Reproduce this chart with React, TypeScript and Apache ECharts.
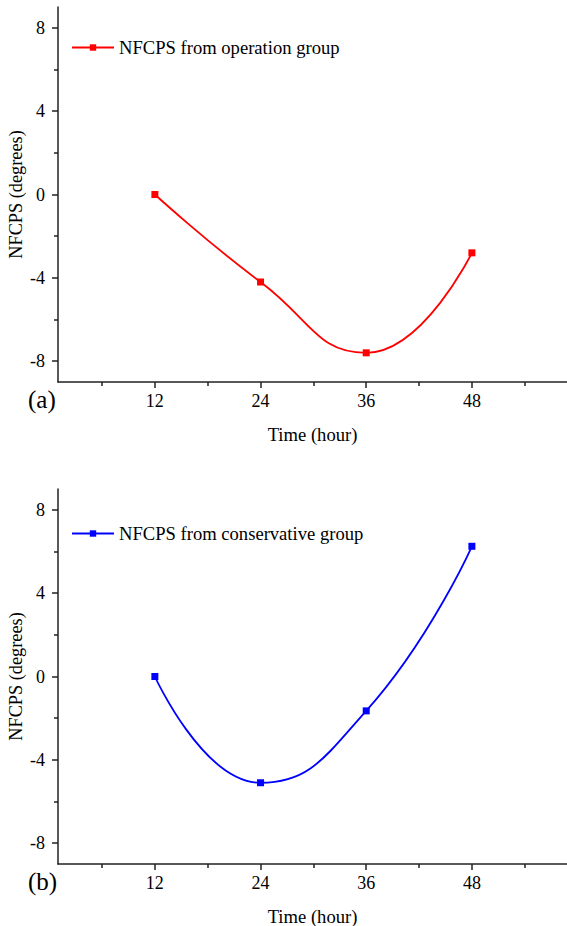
import React, { useEffect, useRef } from "react";
import * as echarts from "echarts";

const hours = [12, 24, 36, 48];
const operationValues = [0, -4.2, -7.6, -2.8];
const conservativeValues = [0, -5.1, -1.65, 6.25];
const yMajorTicks = [-8, -4, 0, 4, 8];
const yMinorTicks = [-6, -2, 2, 6];
const xMajorTicks = [12, 24, 36, 48];
const xMinorTicks = [6, 18, 30, 42, 54];
const seriesNames = ["NFCPS from operation group", "NFCPS from conservative group"];
const panelLabels = ["(a)", "(b)"];

const FONT = "Liberation Serif";
const AXIS_COLOR = "#222";

export default function App() {
  const ref = useRef<HTMLDivElement>(null);
  useEffect(() => {
    if (!ref.current) return;
    const chart = echarts.init(ref.current, null, { renderer: "svg" });
    const grids = [
      { left: 58, right: 0, top: 7, height: 375, containLabel: false, outerBoundsMode: "none" },
      { left: 58, right: 0, top: 489, height: 375, containLabel: false, outerBoundsMode: "none" },
    ];
    const xAxes: any[] = [];
    const yAxes: any[] = [];
    [0, 1].forEach((g) => {
      xAxes.push({
        type: "value",
        gridIndex: g,
        min: 1,
        max: 58.8,
        name: "Time (hour)",
        nameLocation: "middle",
        nameMoveOverlap: false,
        nameGap: 43,
        nameTextStyle: { fontFamily: FONT, fontSize: 18.6, color: "#000" },
        axisLine: { show: true, onZero: false, lineStyle: { color: AXIS_COLOR, width: 1.5 } },
        axisTick: { show: true, inside: false, length: 6, customValues: xMajorTicks, lineStyle: { color: AXIS_COLOR, width: 1.5 } },
        axisLabel: { show: true, margin: 10, customValues: xMajorTicks, fontFamily: FONT, fontSize: 18, color: "#000" },
        splitLine: { show: false },
      });
      xAxes.push({
        type: "value",
        gridIndex: g,
        min: 1,
        max: 58.8,
        position: "bottom",
        axisLine: { show: false, onZero: false },
        axisTick: { show: true, inside: false, length: 4, customValues: xMinorTicks, lineStyle: { color: AXIS_COLOR, width: 1.5 } },
        axisLabel: { show: false },
        splitLine: { show: false },
      });
      yAxes.push({
        type: "value",
        gridIndex: g,
        min: -9,
        max: 9,
        name: "NFCPS (degrees)",
        nameLocation: "middle",
        nameMoveOverlap: false,
        nameGap: 33,
        nameTextStyle: { fontFamily: FONT, fontSize: 18.3, color: "#000" },
        axisLine: { show: true, onZero: false, lineStyle: { color: AXIS_COLOR, width: 1.5 } },
        axisTick: { show: true, inside: false, length: 6, customValues: yMajorTicks, lineStyle: { color: AXIS_COLOR, width: 1.5 } },
        axisLabel: { show: true, margin: 13, customValues: yMajorTicks, fontFamily: FONT, fontSize: 18, color: "#000" },
        splitLine: { show: false },
      });
      yAxes.push({
        type: "value",
        gridIndex: g,
        min: -9,
        max: 9,
        position: "left",
        axisLine: { show: false, onZero: false },
        axisTick: { show: true, inside: false, length: 4, customValues: yMinorTicks, lineStyle: { color: AXIS_COLOR, width: 1.5 } },
        axisLabel: { show: false },
        splitLine: { show: false },
      });
    });
    const colors = ["#ff0000", "#0000ff"];
    const values = [operationValues, conservativeValues];
    chart.setOption({
      animation: false,
      backgroundColor: "#fff",
      grid: grids,
      xAxis: xAxes,
      yAxis: yAxes,
      legend: [0, 1].map((g) => ({
        data: [seriesNames[g]],
        left: 71,
        top: g === 0 ? 38 : 524,
        padding: 0,
        itemWidth: 42,
        itemHeight: 8,
        itemGap: 5,
        textStyle: { fontFamily: FONT, fontSize: 18.6, color: "#000" },
        selectedMode: false,
      })),
      series: [0, 1].map((g) => ({
        name: seriesNames[g],
        type: "line",
        xAxisIndex: g * 2,
        yAxisIndex: g * 2,
        data: hours.map((h, i) => [h, values[g][i]]),
        smooth: 0.5,
        symbol: "rect",
        symbolSize: 7,
        lineStyle: { color: colors[g], width: 1.8 },
        itemStyle: { color: colors[g] },
      })),
      graphic: [0, 1].map((g) => ({
        type: "text",
        left: 28,
        top: g === 0 ? 387 : 869,
        style: { text: panelLabels[g], fontFamily: FONT, fontSize: 25, fill: "#000" },
      })),
    });
    return () => chart.dispose();
  }, []);
  return (
    <div
      ref={ref}
      style={{ position: "fixed", left: 0, top: 0, width: 567, height: 926, background: "#fff" }}
    />
  );
}
